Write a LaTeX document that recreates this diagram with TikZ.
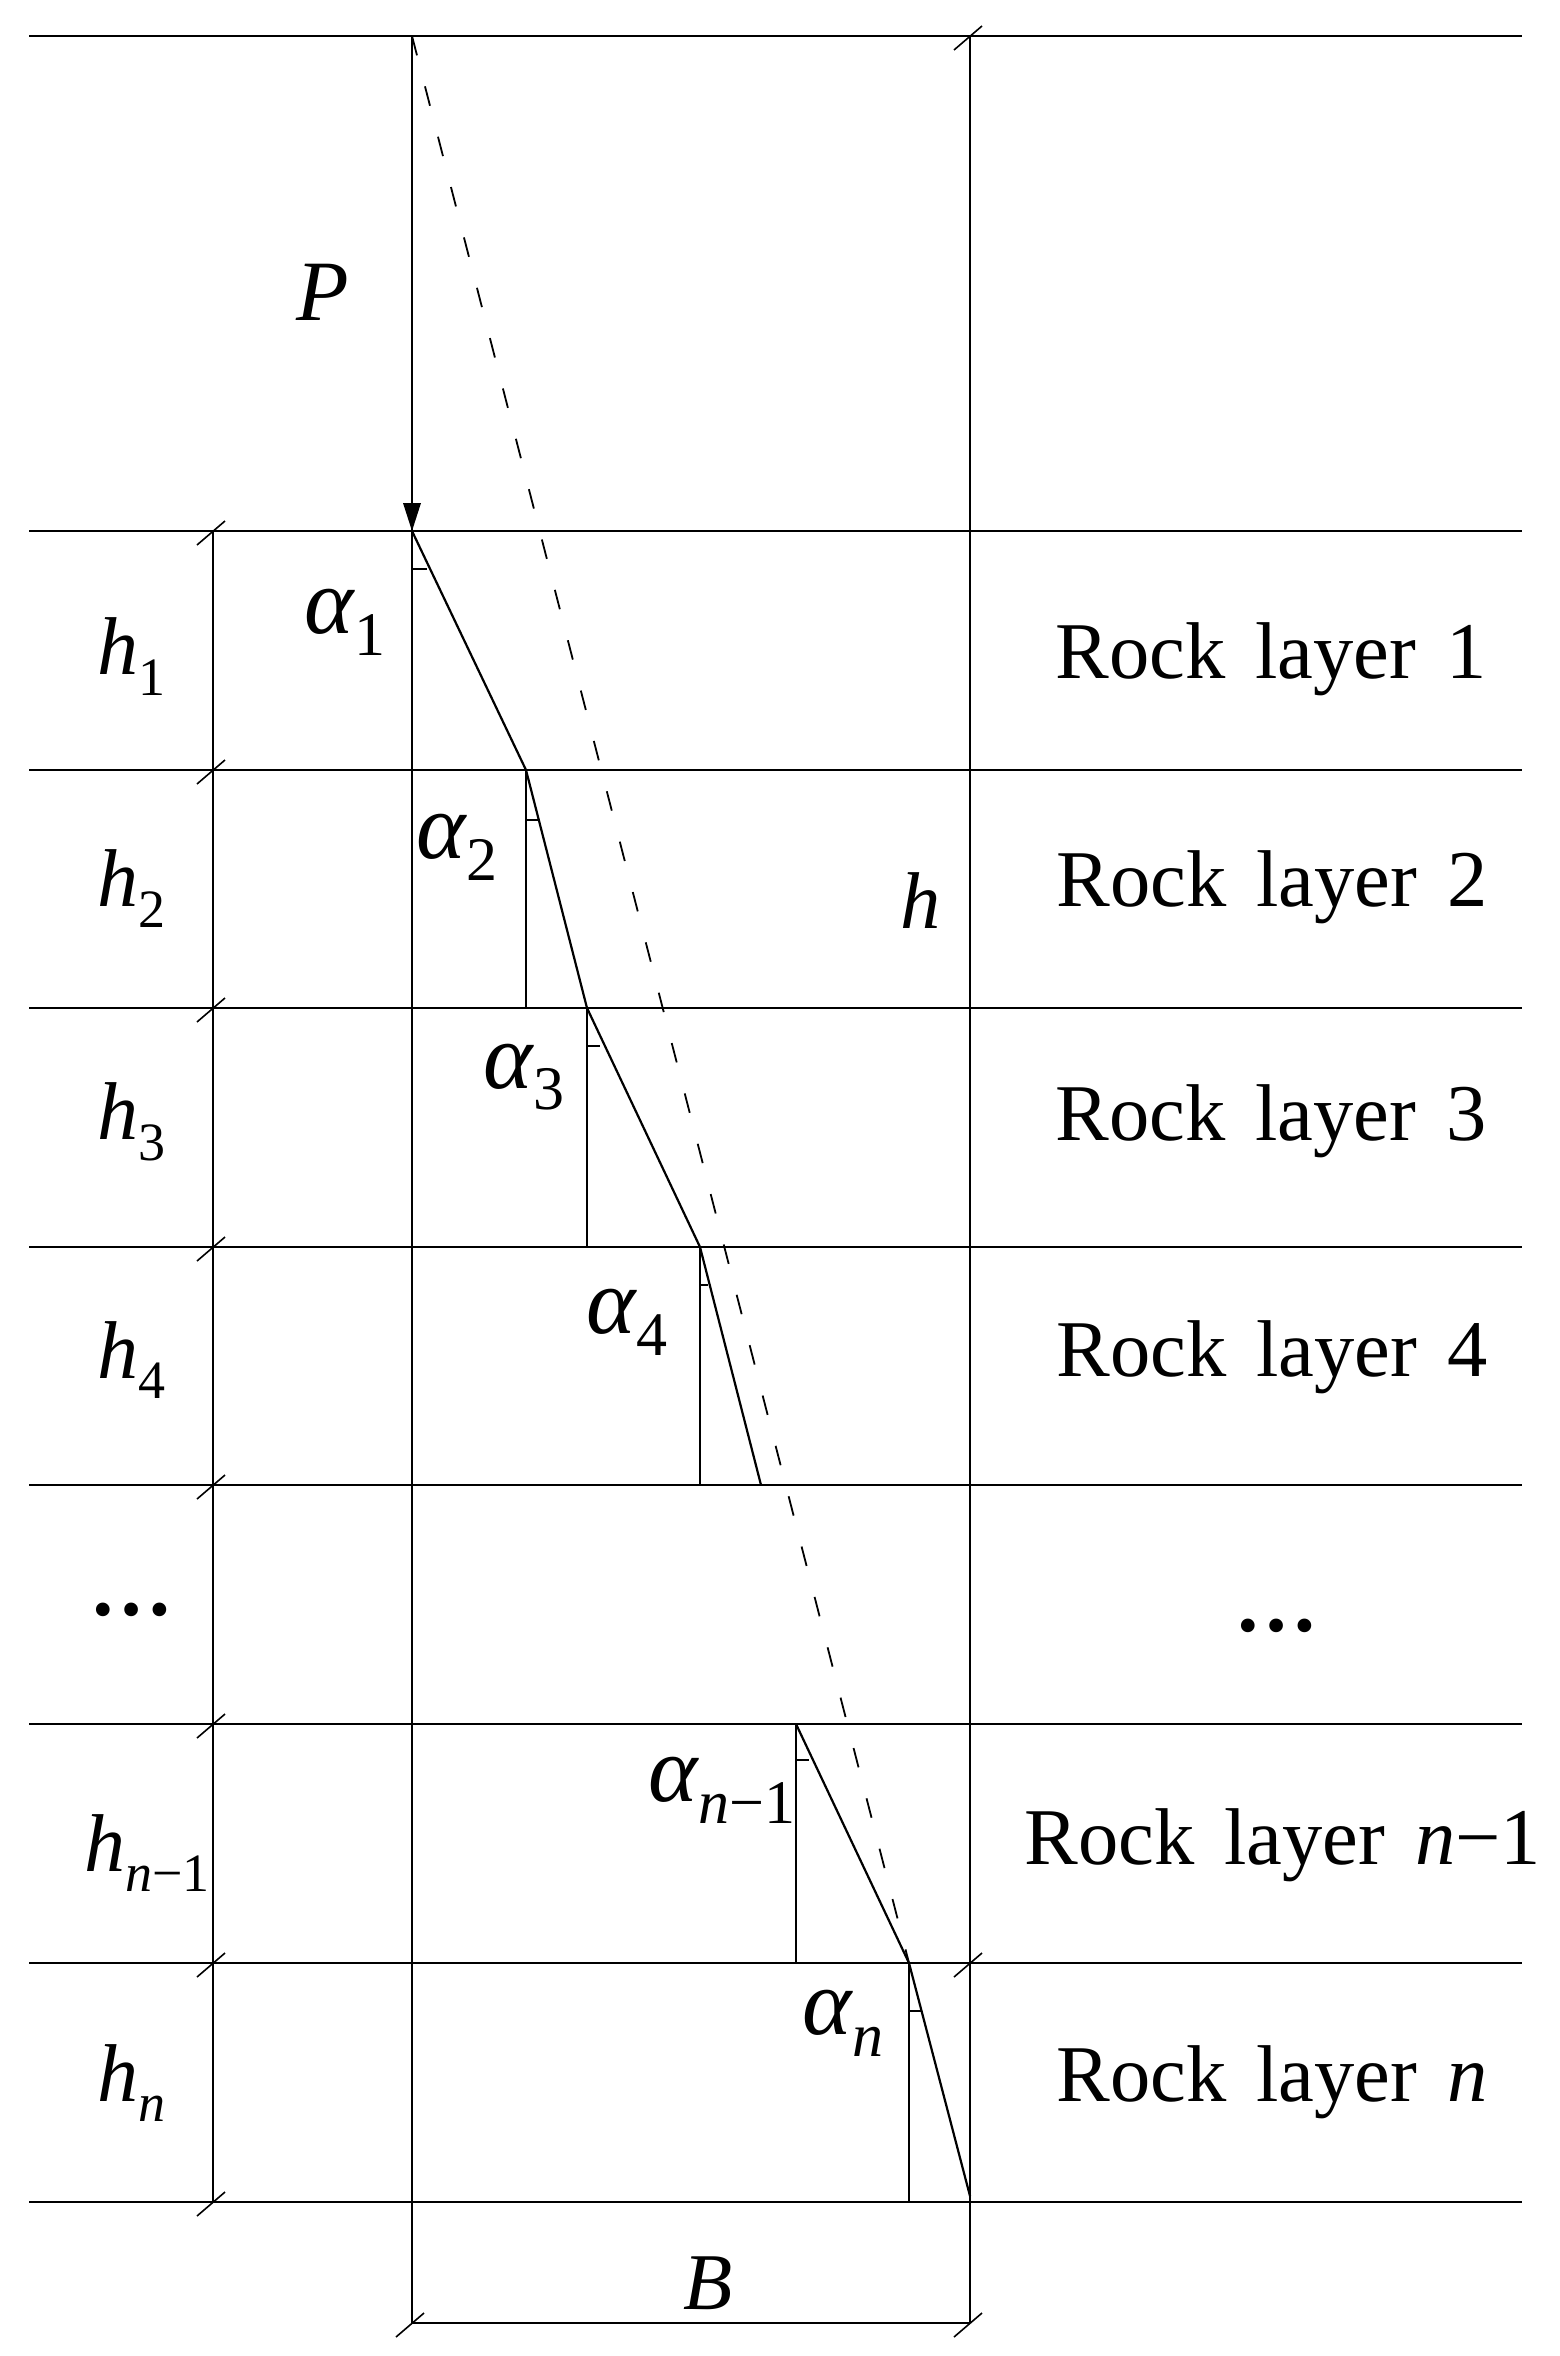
\documentclass[tikz,border=0pt]{standalone}
\usepackage{fontspec}
\setmainfont{Liberation Serif}
\newcommand{\lbl}[2]{{\fontsize{82}{82}\selectfont\itshape #1}\raisebox{-0.26em}{\fontsize{54}{54}\selectfont #2}}
\newcommand{\grk}[2]{{\fontsize{94}{94}\selectfont\itshape #1}\raisebox{-0.27em}{\fontsize{62}{62}\selectfont #2}}
\tikzset{
  thin rule/.style={line width=2.6pt,black},
  ray/.style={line width=2.2pt,black},
  tickmark/.style={line width=1.6pt,black},
  dashray/.style={line width=1.8pt,black,dash pattern=on 20pt off 32pt},
  txt/.style={inner sep=0pt,outer sep=0pt,font=\fontsize{80.5}{80.5}\selectfont,anchor=center},
  dots/.style={inner sep=0pt,outer sep=0pt,font=\fontsize{84}{84}\selectfont\bfseries,anchor=center},
  headtip/.style={fill=black,draw=none}
}
\begin{document}
\begin{tikzpicture}[x=1pt,y=-1pt]
\useasboundingbox (0,0) rectangle (1559,2356);
\fill[white] (0,0) rectangle (1559,2356);
% horizontal layer lines
\foreach \nm/\yy in {0/36,1/531,2/770,3/1008,4/1247,5/1485,6/1724,7/1963,8/2202}{
  \coordinate (L\nm) at (29,\yy);
  \coordinate (R\nm) at (1522,\yy);
  \coordinate (D\nm) at (213,\yy);
  \draw[thin rule] (L\nm) -- (R\nm);
}
\coordinate (mainTop) at (412,36);
\coordinate (mainHit) at (412,531);
\coordinate (mainBot) at (412,2323);
\coordinate (rTop) at (970,36);
\coordinate (rBot) at (970,2323);
\coordinate (rMid) at (970,1963);
% vertical lines
\draw[thin rule] (mainTop) -- (mainBot);
\draw[thin rule] (rTop) -- (rBot);
\draw[thin rule] (D1) -- (D8);
\draw[thin rule] (mainBot) -- (rBot);
% ticks
\foreach \c in {D1,D2,D3,D4,D5,D6,D7,D8,rTop,rMid,mainBot,rBot}{
  \draw[tickmark] ([shift={(-16,14)}]\c) -- ([shift={(12,-10)}]\c);
}
% arrow head
\fill[headtip] (mainHit) -- (403,503) -- (421,503) -- cycle;
% refracted ray
\coordinate (p1) at (412,531);
\coordinate (p2) at (526,770);
\coordinate (p3) at (587,1008);
\coordinate (p4) at (700,1247);
\coordinate (p5) at (761,1485);
\coordinate (p6) at (796,1724);
\coordinate (p7) at (909,1963);
\coordinate (p8) at (970,2196);
\draw[ray] (p1) -- (p2) -- (p3) -- (p4) -- (p5);
\draw[ray] (p6) -- (p7) -- (p8);
% normals
\coordinate (q2) at (526,1008);
\coordinate (q3) at (587,1247);
\coordinate (q4) at (700,1485);
\coordinate (q6) at (796,1963);
\coordinate (q7) at (909,2202);
\draw[thin rule] (p2) -- (q2);
\draw[thin rule] (p3) -- (q3);
\draw[thin rule] (p4) -- (q4);
\draw[thin rule] (p6) -- (q6);
\draw[thin rule] (p7) -- (q7);
% dashed straight line
\draw[dashray] (mainTop) -- (p7);
% angle marks
\foreach \xa/\xb/\yy in {412/427/569,526/538/820,587/600/1046,700/708/1285,796/809/1760,909/921/2011}{
  \coordinate (ma) at (\xa,\yy);
  \coordinate (mb) at (\xb,\yy);
  \draw[tickmark] (ma) -- (mb);
}
% labels
\node[txt] (tP) at (323,292) {\fontsize{86}{86}\selectfont\itshape P};
\node[txt] (th1) at (131,657) {\lbl{h}{1}};
\node[txt] (th2) at (131,889) {\lbl{h}{2}};
\node[txt] (th3) at (131,1122) {\lbl{h}{3}};
\node[txt] (th4) at (131,1360) {\lbl{h}{4}};
\node[dots] (tdl) at (131,1610) {…};
\node[txt] (thm) at (147,1853) {\lbl{h}{\itshape n\upshape −1}};
\node[txt] (thn) at (131,2083) {\lbl{h}{\itshape n}};
\node[txt] (ta1) at (345,622) {\grk{α}{1}};
\node[txt] (ta2) at (457,847) {\grk{α}{2}};
\node[txt] (ta3) at (524,1077) {\grk{α}{3}};
\node[txt] (ta4) at (627,1322) {\grk{α}{4}};
\node[txt] (tam) at (722,1790) {\grk{α}{\itshape n\upshape −1}};
\node[txt] (tan) at (843,2023) {\grk{α}{\itshape n}};
\node[txt] (th) at (921,901) {\itshape h};
\node[txt] (tB) at (708,2283) {\itshape B};
\node[txt] (r1) at (1271,659) {Rock\hspace{.12em} layer\hspace{.12em} 1};
\node[txt] (r2) at (1272,887) {Rock\hspace{.12em} layer\hspace{.12em} 2};
\node[txt] (r3) at (1271,1121) {Rock\hspace{.12em} layer\hspace{.12em} 3};
\node[txt] (r4) at (1272,1357) {Rock\hspace{.12em} layer\hspace{.12em} 4};
\node[dots] (rd) at (1276,1626) {…};
\node[txt] (rm) at (1283,1845) {Rock\hspace{.12em} layer\hspace{.12em} {\itshape n}−1};
\node[txt] (rn) at (1272,2082) {Rock\hspace{.12em} layer\hspace{.12em} {\itshape n}};
\end{tikzpicture}
\end{document}
